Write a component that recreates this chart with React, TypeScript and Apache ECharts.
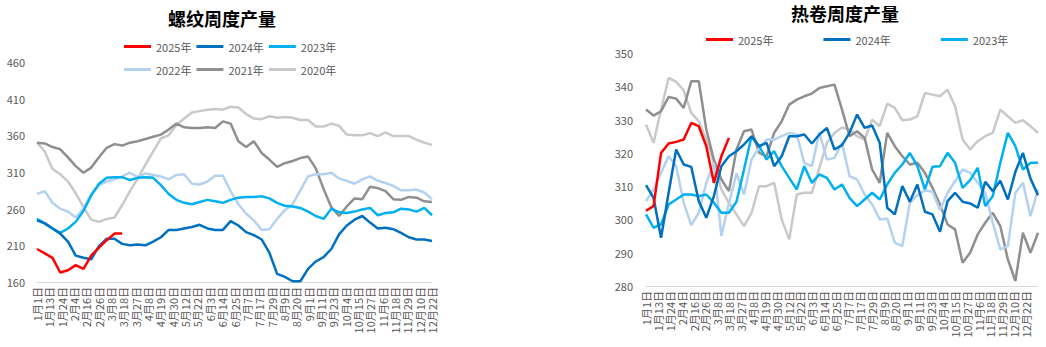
import React, { useEffect, useRef } from "react";
import * as echarts from "echarts";

const dateLabels = ["1月1日","1月13日","1月24日","2月4日","2月16日","2月26日","3月8日","3月18日","3月27日","4月8日","4月19日","4月30日","5月12日","5月22日","6月3日","6月14日","6月25日","7月7日","7月17日","7月29日","8月9日","8月20日","9月1日","9月11日","9月23日","10月4日","10月15日","10月27日","11月6日","11月18日","11月29日","12月10日","12月22日"];

const seriesNames = ["2025年", "2024年", "2023年", "2022年", "2021年", "2020年"];
const seriesColors = ["#FF0000", "#0070C0", "#00B0F0", "#B4D2F0", "#8F8F8F", "#C9C9C9"];

// 螺纹周度产量 (weekly)
const rebar2025 = [205, 199, 193, 173, 176, 183, 178, 196, 207, 217, 226, 226];
const rebar2024 = [244, 240, 233, 226, 215, 196, 193, 191, 209, 219, 219, 212, 210, 211, 210, 215, 221, 231, 231, 233, 235, 238, 233, 231, 231, 243, 237, 228, 224, 218, 200, 171, 167, 161, 161, 178, 188, 194, 205, 225, 237, 245, 250, 241, 233, 234, 232, 227, 221, 218, 218, 216];
const rebar2023 = [246, 240, 233, 227, 233, 242, 257, 278, 294, 302, 303, 303, 299, 302, 303, 302, 292, 280, 272, 268, 266, 269, 272, 270, 268, 272, 275, 276, 276, 277, 274, 268, 264, 263, 261, 256, 250, 246, 260, 255, 254, 256, 259, 261, 251, 254, 255, 260, 259, 256, 261, 251];
const rebar2022 = [280, 284, 268, 260, 256, 248, 260, 280, 292, 297, 300, 304, 309, 303, 308, 306, 304, 300, 306, 307, 294, 293, 297, 305, 305, 284, 266, 253, 244, 231, 232, 246, 258, 266, 285, 304, 307, 307, 309, 301, 298, 294, 300, 304, 298, 295, 291, 285, 285, 286, 282, 273];
const rebar2021 = [350, 349, 344, 341, 330, 318, 309, 316, 330, 343, 348, 346, 350, 352, 355, 358, 361, 368, 376, 371, 370, 370, 371, 370, 379, 376, 352, 344, 352, 336, 327, 317, 322, 325, 329, 331, 315, 287, 262, 250, 263, 274, 273, 290, 288, 284, 273, 272, 276, 275, 270, 269];
const rebar2020 = [350, 338, 314, 307, 297, 281, 262, 245, 242, 246, 248, 265, 284, 301, 320, 338, 356, 360, 374, 383, 391, 393, 395, 396, 395, 399, 398, 389, 383, 382, 386, 384, 385, 384, 381, 381, 372, 372, 376, 373, 361, 360, 360, 363, 359, 364, 359, 359, 359, 354, 350, 347];

// 热卷周度产量 (weekly)
const coil2025 = [302.6, 304, 320, 322.8, 323.3, 324, 329, 328, 322, 311, 319, 324.5];
const coil2024 = [310.3, 306.5, 294.5, 308, 321, 316.5, 315.8, 305.5, 300.5, 307, 316, 319, 320.5, 322.5, 325, 322, 323, 316, 319, 325, 325, 325.5, 322.8, 325.5, 327.5, 321, 322.3, 326, 331.5, 327.5, 328.2, 323, 303.5, 301.5, 310, 305.3, 310.5, 302.3, 301.5, 296.3, 305.5, 308, 305.3, 304.8, 303.5, 311.3, 308.5, 311.6, 306, 314.3, 320, 312.3, 307.3];
const coil2023 = [301.5, 297.5, 298.5, 304.5, 306, 307.5, 307.5, 307, 307.5, 305, 302, 302, 305.3, 315, 325, 322, 318, 320.5, 316, 312.5, 309, 316, 311, 313.5, 312.5, 309, 310.5, 306.5, 304, 306, 308, 306, 310.5, 314, 316.5, 320, 316, 309, 315.8, 316, 320, 317, 309.5, 311.8, 315.5, 304, 307, 317, 326, 322, 315, 317, 317];
const coil2022 = [305.5, 309, 314, 319, 316, 305, 298.3, 302, 311, 317, 295, 304.8, 313.8, 307.5, 318, 321.5, 324, 324, 325, 326, 325.5, 317, 316, 326, 318, 318.5, 323, 313, 312, 307.5, 304.5, 300, 300.3, 293, 292, 305, 307.3, 308.7, 308.3, 302.8, 308, 311.5, 315, 314, 311, 308, 299, 291, 292, 308, 311, 301, 309];
const coil2021 = [333, 331.2, 332.5, 336.8, 336.3, 333.5, 341.5, 341.5, 327, 318, 312, 308.5, 321, 326.5, 327, 320, 319, 326, 329.5, 334.5, 336, 337, 337.8, 339.5, 340, 340.5, 333, 325, 326.5, 324.5, 315, 311, 326, 322, 319, 316.5, 317, 314, 309.5, 304.5, 298.5, 297, 287, 290, 295.5, 299, 302, 298, 288, 281.5, 296, 290, 296];
const coil2020 = [328.5, 323, 333, 342.5, 341.3, 338.8, 332, 329.5, 324, 317, 309, 305, 301.5, 298, 302, 310, 310, 311, 300, 294, 307.5, 308, 308, 315.5, 323, 326, 327.6, 327, 325, 324, 330, 328, 334.8, 333.5, 329.8, 330, 331, 338, 337.5, 337, 339, 334, 324, 321, 323.5, 325, 326, 333, 331, 329, 329.8, 328, 326];

const rebarSeries = [rebar2025, rebar2024, rebar2023, rebar2022, rebar2021, rebar2020];
const coilSeries = [coil2025, coil2024, coil2023, coil2022, coil2021, coil2020];

const FONT = '"Noto Sans CJK SC", "Noto Sans", sans-serif';
const LABEL_COLOR = "#595959";

export default function App() {
  const ref = useRef<HTMLDivElement>(null);

  useEffect(() => {
    if (!ref.current) return;
    const chart = echarts.init(ref.current, undefined, { renderer: "svg" });

    const weeksLeft = rebar2024.map((_, i) => String(i));
    const weeksRight = coil2024.map((_, i) => String(i));

    const labelAxis = (gridIndex: number, data: string[]) => ({
      gridIndex,
      type: "category",
      data,
      boundaryGap: false,
      axisLine: { show: true, lineStyle: { color: "#D9D9D9", width: 1 } },
      axisTick: { show: false },
      splitLine: { show: false },
      axisLabel: {
        rotate: 90,
        interval: 0,
        fontSize: 11,
        color: LABEL_COLOR,
        margin: 5,
        fontFamily: FONT,
      },
    });

    const hiddenAxis = (gridIndex: number, data: string[]) => ({
      gridIndex,
      type: "category",
      data,
      boundaryGap: false,
      show: false,
    });

    const makeSeries = (arrs: number[][], xAxisIndex: number, yAxisIndex: number) =>
      arrs
        .map((arr, k) => ({
          name: seriesNames[k],
          type: "line",
          xAxisIndex,
          yAxisIndex,
          data: arr,
          symbol: "none",
          lineStyle: { color: seriesColors[k], width: 2.5 },
          itemStyle: { color: seriesColors[k] },
          z: 10 - k,
        }))
        .reverse();

    const legendBase = {
      icon: "rect",
      itemWidth: 27,
      itemHeight: 3,
      padding: 0,
      textStyle: { fontSize: 11, color: LABEL_COLOR, fontFamily: FONT },
      selectedMode: false,
    };

    chart.setOption({
      animation: false,
      textStyle: { fontFamily: FONT },
      color: seriesColors,
      graphic: [
        {
          type: "text",
          x: 222,
          y: 18,
          style: {
            text: "螺纹周度产量",
            fontSize: 18,
            fontWeight: "bold",
            fontFamily: FONT,
            fill: "#000",
            align: "center",
            verticalAlign: "middle",
          },
        },
        {
          type: "text",
          x: 845,
          y: 13,
          style: {
            text: "热卷周度产量",
            fontSize: 18,
            fontWeight: "bold",
            fontFamily: FONT,
            fill: "#000",
            align: "center",
            verticalAlign: "middle",
          },
        },
      ],
      legend: [
        { ...legendBase, data: seriesNames.slice(0, 3), left: 124, top: 41, itemGap: 5 },
        { ...legendBase, data: seriesNames.slice(3, 6), left: 124, top: 64, itemGap: 5 },
        { ...legendBase, data: seriesNames.slice(0, 3), left: 706, top: 34, itemGap: 50 },
      ],
      grid: [
        { left: 37, right: 1046 - 432, top: 62, bottom: 347 - 282 },
        { left: 646, right: 1046 - 1038, top: 53, bottom: 347 - 286 },
      ],
      xAxis: [
        labelAxis(0, dateLabels),
        hiddenAxis(0, weeksLeft),
        labelAxis(1, [...dateLabels, ""]),
        hiddenAxis(1, weeksRight),
      ],
      yAxis: [
        {
          gridIndex: 0,
          type: "value",
          min: 160,
          max: 460,
          interval: 50,
          axisLine: { show: false },
          axisTick: { show: false },
          splitLine: { show: false },
          axisLabel: { fontSize: 11, color: LABEL_COLOR, margin: 12, fontFamily: FONT },
        },
        {
          gridIndex: 1,
          type: "value",
          min: 280,
          max: 350,
          interval: 10,
          axisLine: { show: false },
          axisTick: { show: false },
          splitLine: { show: false },
          axisLabel: { fontSize: 11, color: LABEL_COLOR, margin: 13, fontFamily: FONT },
        },
      ],
      series: [...makeSeries(rebarSeries, 1, 0), ...makeSeries(coilSeries, 3, 1)],
    });

    return () => {
      chart.dispose();
    };
  }, []);

  return (
    <div
      ref={ref}
      style={{ position: "absolute", left: 0, top: 0, width: 1046, height: 347, background: "#fff" }}
    />
  );
}
